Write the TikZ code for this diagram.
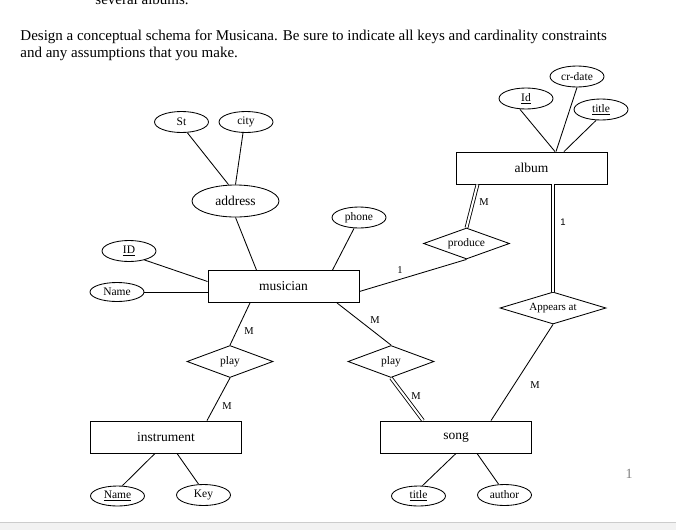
\documentclass[tikz,border=0pt]{standalone}
\usepackage{fontspec}
\setmainfont{Liberation Serif}
\setsansfont{Liberation Sans}
\usetikzlibrary{calc}
\usetikzlibrary{shapes.geometric}

\begin{document}
\begin{tikzpicture}[x=1pt, y=-1pt, line width=0.85pt,
    entity/.style={draw, rectangle, minimum width=151pt, minimum height=32pt, font=\fontsize{13.5}{16}\selectfont},
    attrib/.style={draw, ellipse, minimum width=54pt, minimum height=21pt, inner sep=0pt, font=\fontsize{11.5}{13}\selectfont},
    relation/.style={draw, diamond, aspect=3, inner sep=0pt, minimum width=86pt, minimum height=32pt, font=\fontsize{11.5}{13}\selectfont},
    card/.style={inner sep=0pt, font=\fontsize{10.5}{12}\selectfont},
    total/.style={double, double distance=2pt},
    header/.style={anchor=base west, inner sep=0pt, font=\fontsize{15}{18}\selectfont}]

    \useasboundingbox (0, 0) rectangle (676, 530);
    \fill[gray!10] (0, 522) rectangle (676, 530);
    \draw[gray!40] (0, 522) -- (676, 522);

    \node[header] (prev) at (95, 5) {several albums.};
    \node[header] (head1) at (20, 40) {Design a conceptual schema for Musicana. Be sure to indicate all keys and cardinality constraints};
    \node[header] (head2) at (20, 57) {and any assumptions that you make.};

    \node[entity] (musician) at (283.5, 286.5) {musician};
    \node[entity] (album) at (531.5, 168) {album};
    \node[entity] (instrument) at (166, 437) {instrument};
    \node[entity] (song) at (456, 437) {song};

    \node[attrib] (st) at (181.5, 122) {St};
    \node[attrib] (city) at (246, 122) {city};
    \node[attrib, minimum width=87pt, minimum height=32pt, font=\fontsize{13.5}{16}\selectfont] (address) at (235.5, 201) {address};
    \node[attrib] (phone) at (359, 217.5) {phone};
    \node[attrib] (mid) at (129, 251) {\underline{ID}};
    \node[attrib, minimum height=19pt] (mname) at (117, 292) {Name};
    \node[attrib] (aid) at (526, 98.5) {\underline{Id}};
    \node[attrib] (crdate) at (577, 76.5) {cr-date};
    \node[attrib] (atitle) at (601, 109.5) {\underline{title}};
    \node[attrib, minimum height=20pt] (iname) at (117.5, 496) {\underline{Name}};
    \node[attrib] (key) at (203.5, 495) {Key};
    \node[attrib, minimum height=20pt] (stitle) at (418.5, 496) {\underline{title}};
    \node[attrib] (author) at (504.5, 495) {author};

    \node[relation, minimum height=31pt] (produce) at (466.5, 243.5) {produce};
    \node[relation, minimum width=106pt, font=\fontsize{11}{13}\selectfont] (appears) at (553, 308) {Appears at};
    \node[relation] (playi) at (230, 361.5) {play};
    \node[relation] (plays) at (391, 361.5) {play};

    \draw ([xshift=6pt]st.south) -- ([xshift=-7pt]address.north);
    \draw ([xshift=-3pt]city.south) -- (address.north);
    \draw (address.south) -- ([xshift=-27pt]musician.north);
    \draw ([xshift=-5pt]phone.south) -- ([xshift=49pt]musician.north);
    \draw (mid.-30) -- ([yshift=5pt]musician.west);
    \draw (mname.east) -- (musician.west |- mname.east);

    \draw ([xshift=-6pt]aid.south) -- ([xshift=23.5pt]album.north);
    \draw (crdate.south) -- ([xshift=24.5pt]album.north);
    \draw ([xshift=-5pt]atitle.south) -- ([xshift=32.5pt]album.north);

    \draw ([yshift=-5pt]musician.east) -- (produce.south);
    \draw[total] (produce.north) -- ([xshift=-54pt]album.south);
    \draw[total] ([xshift=21.5pt]album.south) -- (appears.north);
    \draw (appears.south) -- ([xshift=35pt]song.north);

    \draw ([xshift=-33.5pt]musician.south) -- (playi.north);
    \draw (playi.south) -- ([xshift=41pt]instrument.north);
    \draw ([xshift=53.5pt]musician.south) -- (plays.north);
    \draw[total] (plays.south) -- ([xshift=-33pt]song.north);

    \draw ([xshift=-11pt]instrument.south) -- ([xshift=5pt]iname.north);
    \draw ([xshift=11pt]instrument.south) -- ([xshift=-5pt]key.north);
    \draw (song.south) -- ([xshift=4pt]stitle.north);
    \draw ([xshift=21pt]song.south) -- ([xshift=-6pt]author.north);

    \node[card] (c1) at (400, 270) {1};
    \node[card] (c2) at (484, 202) {M};
    \node[card, font=\sffamily\fontsize{9.5}{11}\selectfont] (c3) at (563, 222) {1};
    \node[card] (c4) at (535, 385) {M};
    \node[card] (c5) at (249, 331) {M};
    \node[card] (c6) at (227, 406) {M};
    \node[card] (c7) at (375, 320) {M};
    \node[card] (c8) at (416, 396) {M};

    \node[text=gray, font=\fontsize{14}{16}\selectfont] (pagenum) at (629, 474) {1};
    \end{tikzpicture}
\end{document}
